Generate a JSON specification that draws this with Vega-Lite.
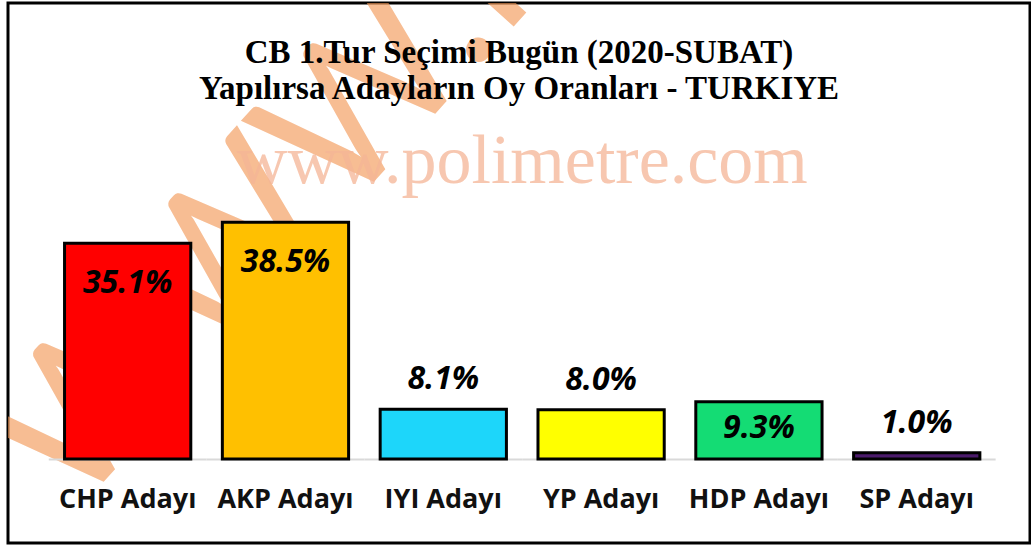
{
  "$schema": "https://vega.github.io/schema/vega-lite/v6.json",
  "width": 1022,
  "height": 540,
  "autosize": {"type": "none"},
  "padding": {"left": 8, "top": 3, "right": 1, "bottom": 3},
  "background": "white",
  "config": {
    "view": {"stroke": "black", "strokeWidth": 3},
    "title": {"font": "Liberation Serif", "fontSize": 33, "fontWeight": "bold", "color": "black", "lineHeight": 36, "anchor": "middle", "frame": "group", "baseline": "top", "offset": -103}
  },
  "title": {"text": ["CB 1.Tur Seçimi Bugün (2020-SUBAT)", "Yapılırsa  Adayların  Oy Oranları  - TURKIYE"]},
  "data": {"values": [
    {"aday": "CHP Adayı", "oran": 35.1},
    {"aday": "AKP Adayı", "oran": 38.5},
    {"aday": "IYI Adayı", "oran": 8.1},
    {"aday": "YP Adayı", "oran": 8.0},
    {"aday": "HDP Adayı", "oran": 9.3},
    {"aday": "SP Adayı", "oran": 1.0}
  ]},
  "encoding": {
    "x": {"field": "aday", "type": "nominal", "sort": null,
      "scale": {"domain": ["CHP Adayı", "AKP Adayı", "IYI Adayı", "YP Adayı", "HDP Adayı", "SP Adayı"], "paddingInner": 0.2, "paddingOuter": 0.338, "align": 0.53},
      "axis": {"orient": "bottom", "offset": -84, "title": null, "domain": false, "ticks": false, "labelAngle": 0, "labelFont": "Open Sans", "labelFontWeight": "bold", "labelFontSize": 27, "labelColor": "#111111", "labelPadding": 27, "labelBaseline": "top"}},
    "y": {"field": "oran", "type": "quantitative", "scale": {"domain": [-13.66, 74.15], "nice": false, "zero": true}, "axis": null}
  },
  "layer": [
    {
      "transform": [{"filter": "datum.aday == 'CHP Adayı'"}],
      "mark": {"type": "text", "text": "WWW.POLIMETRE.COM", "font": "Lato", "fontWeight": "normal", "fontSize": 195, "angle": -48, "align": "left", "baseline": "alphabetic", "fill": "#F39A5A", "opacity": 0.65, "dx": -240, "dy": 142, "clip": true}
    },
    {
      "transform": [{"filter": "datum.aday == 'IYI Adayı'"}],
      "mark": {"type": "text", "text": "www.polimetre.com", "font": "Liberation Serif", "fontSize": 70, "align": "center", "baseline": "alphabetic", "fill": "#F5B596", "opacity": 0.75, "dx": 79},
      "encoding": {"y": {"datum": 44.9, "type": "quantitative"}}
    },
    {
      "mark": {"type": "bar", "width": {"band": 1.25}, "color": "#D9D9D9"},
      "encoding": {
        "y": {"datum": 0.1, "type": "quantitative"},
        "y2": {"datum": -0.25}
      }
    },
    {
      "mark": {"type": "bar", "stroke": "black", "strokeWidth": 3},
      "encoding": {
        "color": {"field": "aday", "type": "nominal", "legend": null,
          "scale": {"domain": ["CHP Adayı", "AKP Adayı", "IYI Adayı", "YP Adayı", "HDP Adayı", "SP Adayı"],
                    "range": ["#FF0000", "#FFC000", "#1DD6FA", "#FFFF00", "#14DC74", "#4B1A6B"]}}
      }
    },
    {
      "transform": [{"filter": "datum.oran > 30"}],
      "mark": {"type": "text", "font": "Open Sans", "fontSize": 32, "fontWeight": "bold", "fontStyle": "italic", "color": "black", "baseline": "middle", "dy": 40, "text": {"expr": "format(datum.oran, '.1f') + '%'"}},
      "encoding": {}
    },
    {
      "transform": [{"filter": "datum.oran > 9 && datum.oran <= 30"}],
      "mark": {"type": "text", "font": "Open Sans", "fontSize": 32, "fontWeight": "bold", "fontStyle": "italic", "color": "black", "baseline": "middle", "dy": 26, "text": {"expr": "format(datum.oran, '.1f') + '%'"}},
      "encoding": {}
    },
    {
      "transform": [{"filter": "datum.oran <= 9"}],
      "mark": {"type": "text", "font": "Open Sans", "fontSize": 32, "fontWeight": "bold", "fontStyle": "italic", "color": "black", "baseline": "middle", "dy": -30, "text": {"expr": "format(datum.oran, '.1f') + '%'"}},
      "encoding": {}
    }
  ]
}
